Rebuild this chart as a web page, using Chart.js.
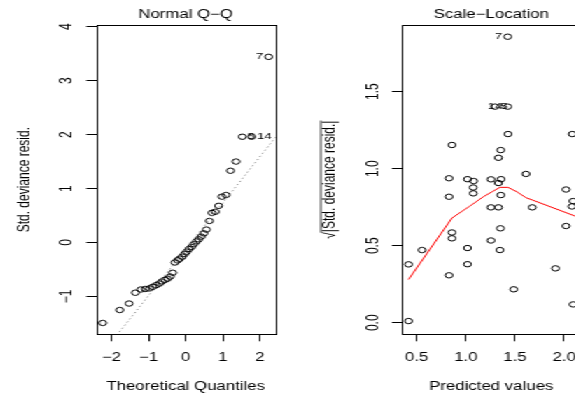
<!DOCTYPE html>
<html>
<head>
<meta charset="utf-8">
<script src="https://cdn.jsdelivr.net/npm/chart.js@4.4.0/dist/chart.umd.min.js"></script>
<style>
html, body { margin: 0; padding: 0; background: #fff; overflow: hidden; width: 575px; height: 396px; }
/* the reference is an R plot stretched sideways, so the canvases are too */
#wrap { position: absolute; left: 0; top: 0; width: 440px; height: 396px; transform: scaleX(1.4); transform-origin: 0 0; }
canvas { position: absolute; top: 0; }
#qq { left: 0; }
#sl { left: 218px; }
</style>
</head>
<body>
<div id="wrap">
  <canvas id="qq" width="218" height="396"></canvas>
  <canvas id="sl" width="218" height="396"></canvas>
</div>
<script>
// Normal Q-Q
const qqTheoretical = [-2.24, -1.78, -1.53, -1.36, -1.21, -1.09, -0.98, -0.89, -0.80, -0.71,
  -0.64, -0.56, -0.49, -0.42, -0.35, -0.29, -0.22, -0.16, -0.09, -0.03,
  0.03, 0.09, 0.16, 0.22, 0.29, 0.35, 0.42, 0.49, 0.56, 0.64,
  0.71, 0.80, 0.89, 0.98, 1.09, 1.21, 1.36, 1.53, 1.78, 2.24];
const qqResid = [-1.49, -1.25, -1.13, -0.93, -0.87, -0.86, -0.85, -0.82, -0.79, -0.76,
  -0.72, -0.69, -0.67, -0.63, -0.56, -0.37, -0.33, -0.30, -0.26, -0.21,
  -0.17, -0.12, -0.08, -0.03, 0.02, 0.06, 0.11, 0.17, 0.24, 0.40,
  0.55, 0.57, 0.68, 0.85, 0.88, 1.33, 1.50, 1.96, 1.96, 3.44];
const qqLineX = [-2.6, 2.6];
const qqLineY = [-2.35, 2.10];
const qqIdIndex = [39, 38, 37];
const qqIdText = ['7', '14', '5'];
const qqXTicks = [-2, -1, 0, 1, 2];
const qqXLabels = ['\u22122', '\u22121', '0', '1', '2'];
const qqYTicks = [-1, 0, 1, 2, 3, 4];
const qqYLabels = ['\u22121', '0', '1', '2', '3', '4'];

// Scale-Location
const slFitted = [1.426, 1.297, 1.426, 0.859, 1.429, 1.355, 1.332, 2.083, 0.829, 1.017,
  1.080, 1.256, 1.358, 1.332, 1.612, 1.075, 1.076, 0.829, 1.356, 2.019,
  1.256, 1.332, 1.676, 2.090, 2.080, 0.859, 0.859, 1.352, 2.019, 0.554,
  1.017, 1.256, 1.347, 0.417, 1.017, 0.829, 1.912, 1.487, 0.417, 2.091];
const slSqrtResid = [1.857, 1.403, 1.403, 1.154, 1.225, 1.121, 1.071, 1.225, 0.938, 0.932,
  0.920, 0.931, 0.932, 0.907, 0.966, 0.878, 0.840, 0.818, 0.829, 0.865,
  0.749, 0.749, 0.749, 0.790, 0.755, 0.586, 0.548, 0.613, 0.628, 0.472,
  0.485, 0.534, 0.472, 0.379, 0.380, 0.308, 0.353, 0.217, 0.011, 0.119];
const slSmoothX = [0.417, 0.859, 1.042, 1.178, 1.263, 1.347, 1.429, 1.517, 1.612, 1.676, 2.110, 2.171];
const slSmoothY = [0.281, 0.680, 0.758, 0.818, 0.849, 0.879, 0.879, 0.851, 0.812, 0.797, 0.693, 0.680];
const slIdIndex = [0, 2, 1];
const slIdText = ['7', '14', '5'];
const slXTicks = [0.5, 1.0, 1.5, 2.0];
const slXLabels = ['0.5', '1.0', '1.5', '2.0'];
const slYTicks = [0.0, 0.5, 1.0, 1.5];
const slYLabels = ['0.0', '0.5', '1.0', '1.5'];

const FONT = "'Liberation Sans', Arial, Helvetica, sans-serif";
Chart.defaults.font.family = FONT;
Chart.defaults.font.size = 12;
Chart.defaults.color = '#000';

function pts(xs, ys) {
  return xs.map((x, i) => ({ x: x, y: ys[i] }));
}

// box, rotated y tick labels and point ids, the way R draws them
function rPlugin(cfg) {
  return {
    id: 'rStyle',
    afterDraw(chart) {
      const ctx = chart.ctx, a = chart.chartArea;
      const xs = chart.scales.x, ys = chart.scales.y;
      ctx.save();
      ctx.strokeStyle = '#000';
      ctx.lineWidth = 1;
      ctx.strokeRect(Math.round(a.left) + 0.5, Math.round(a.top) + 0.5,
        Math.round(a.right - a.left), Math.round(a.bottom - a.top));

      ctx.fillStyle = '#000';
      ctx.font = '12px ' + FONT;
      ctx.textAlign = 'center';
      ctx.textBaseline = 'alphabetic';
      cfg.yTicks.forEach((v, i) => {
        ctx.save();
        ctx.translate(a.left - 17.2, ys.getPixelForValue(v));
        ctx.rotate(-Math.PI / 2);
        ctx.fillText(cfg.yLabels[i], 0, 0);
        ctx.restore();
      });

      // ids: right of the point unless it is past the middle of the labelled ones
      const idX = cfg.idIndex.map(i => cfg.x[i]);
      const mid = (Math.min(...idX) + Math.max(...idX)) / 2;
      ctx.font = '9.5px ' + FONT;
      ctx.textBaseline = 'middle';
      cfg.idIndex.forEach((i, k) => {
        const px = xs.getPixelForValue(cfg.x[i]);
        const py = ys.getPixelForValue(cfg.y[i]);
        if (cfg.x[i] > mid) {
          ctx.textAlign = 'right';
          ctx.fillText(cfg.idText[k], px - 3.8, py);
        } else {
          ctx.textAlign = 'left';
          ctx.fillText(cfg.idText[k], px + 3.8, py);
        }
      });

      if (cfg.overline) {
        ctx.font = '12px ' + FONT;
        const wFull = ctx.measureText(cfg.yTitle).width;
        const wRad = ctx.measureText('\u221A').width;
        const cy = (a.top + a.bottom) / 2;
        const lx = 11.1;
        ctx.lineWidth = 0.8;
        ctx.beginPath();
        ctx.moveTo(lx, cy + wFull / 2 - wRad + 0.5);
        ctx.lineTo(lx, cy - wFull / 2);
        ctx.stroke();
      }
      ctx.restore();
    }
  };
}

function makeChart(id, cfg) {
  const tickFont = { family: FONT, size: 12 };
  return new Chart(document.getElementById(id), {
    type: 'scatter',
    data: {
      datasets: [
        {
          data: pts(cfg.lineX, cfg.lineY),
          showLine: true,
          pointRadius: 0,
          borderColor: cfg.lineColor,
          borderWidth: 1,
          borderDash: cfg.lineDash,
          tension: 0
        },
        {
          data: pts(cfg.x, cfg.y),
          pointStyle: 'circle',
          pointRadius: 2.7,
          pointBorderWidth: 1,
          pointBorderColor: '#000',
          pointBackgroundColor: 'rgba(0,0,0,0)',
          showLine: false
        }
      ]
    },
    options: {
      responsive: false,
      animation: false,
      devicePixelRatio: 1,
      events: [],
      layout: { autoPadding: false, padding: { left: 0, right: cfg.padRight, top: 0, bottom: 0 } },
      plugins: {
        legend: { display: false },
        tooltip: { enabled: false },
        title: {
          display: true,
          text: cfg.title,
          fullSize: false,
          color: '#000',
          font: { family: FONT, size: 12, weight: 'normal' },
          padding: { top: 7.3, bottom: 3.3 }
        }
      },
      scales: {
        x: {
          type: 'linear',
          position: 'bottom',
          min: cfg.xMin,
          max: cfg.xMax,
          afterFit: s => { s.height = 61.7; },
          afterBuildTicks: s => { s.ticks = cfg.xTicks.map(v => ({ value: v })); },
          ticks: {
            autoSkip: false,
            maxRotation: 0,
            padding: 9.5,
            color: '#000',
            font: tickFont,
            callback: (v, i) => cfg.xLabels[i]
          },
          grid: { display: true, drawOnChartArea: false, drawTicks: true, tickLength: 7, color: '#000', lineWidth: 1 },
          border: { display: false },
          title: { display: true, text: cfg.xTitle, color: '#000', font: tickFont, padding: { top: 0, bottom: 2.3 } }
        },
        y: {
          type: 'linear',
          min: cfg.yMin,
          max: cfg.yMax,
          afterFit: s => { s.width = cfg.yWidth; },
          afterBuildTicks: s => { s.ticks = cfg.yTicks.map(v => ({ value: v })); },
          ticks: { display: false },
          grid: { display: true, drawOnChartArea: false, drawTicks: true, tickLength: 7, color: '#000', lineWidth: 1 },
          border: { display: false },
          title: { display: true, text: cfg.yTitle, color: '#000', font: tickFont, padding: { top: 10.7, bottom: 0 } }
        }
      }
    },
    plugins: [rPlugin(cfg)]
  });
}

makeChart('qq', {
  title: 'Normal Q\u2212Q',
  xTitle: 'Theoretical Quantiles',
  yTitle: 'Std. deviance resid.',
  x: qqTheoretical, y: qqResid,
  lineX: qqLineX, lineY: qqLineY,
  lineColor: '#8c8c8c', lineDash: [1.2, 2.4],
  idIndex: qqIdIndex, idText: qqIdText,
  xTicks: qqXTicks, xLabels: qqXLabels,
  yTicks: qqYTicks, yLabels: qqYLabels,
  xMin: -2.42, xMax: 2.42, yMin: -1.70, yMax: 4.03,
  yWidth: 68.6, padRight: 21.4,
  overline: false
});

makeChart('sl', {
  title: 'Scale\u2212Location',
  xTitle: 'Predicted values',
  yTitle: '\u221A|Std. deviance resid.|',
  x: slFitted, y: slSqrtResid,
  lineX: slSmoothX, lineY: slSmoothY,
  lineColor: '#ff0000', lineDash: [],
  idIndex: slIdIndex, idText: slIdText,
  xTicks: slXTicks, xLabels: slXLabels,
  yTicks: slYTicks, yLabels: slYLabels,
  xMin: 0.347, xMax: 2.171, yMin: -0.075, yMax: 1.933,
  yWidth: 68.9, padRight: 21,
  overline: true
});
</script>
</body>
</html>
